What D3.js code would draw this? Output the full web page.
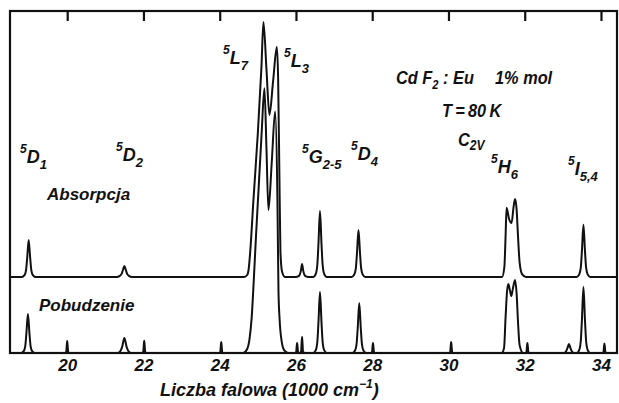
<!DOCTYPE html>
<html>
<head>
<meta charset="utf-8">
<script src="https://cdn.jsdelivr.net/npm/d3@7"></script>
<style>
  html, body { margin: 0; padding: 0; background: #fff; }
  svg { display: block; }
  text { font-family: "Liberation Sans", Arial, sans-serif; font-style: italic; fill: #111; }
</style>
</head>
<body>
<script>
// Wavenumber axis, in 1000 cm^-1
const xTicks = [20, 22, 24, 26, 28, 30, 32, 34];

// Absorption spectrum of CdF2:Eu (1% mol) at 80 K: [wavenumber, intensity]
const absorption = [
  [18.50, 0],
  [18.81, 0], [18.88, 0.7], [18.92, 2.5], [18.95, 7.0], [18.99, 13.9], [19.03, 7.0], [19.06, 2.5], [19.10, 0.7], [19.17, 0],
  [21.30, 0], [21.38, 0.4], [21.43, 1.3], [21.47, 3.0], [21.50, 4.1], [21.53, 3.0], [21.57, 1.3], [21.62, 0.4], [21.70, 0],
  [24.64, 0], [24.72, 0.75], [24.76, 3.0], [24.80, 9.4], [24.885, 29.0], [25.00, 54.1], [25.095, 79.0], [25.147, 95.9],
  [25.226, 78.2], [25.304, 60.9], [25.401, 73.7], [25.498, 86.5], [25.532, 75.0], [25.566, 37.6], [25.593, 9.4], [25.637, 1.9], [25.716, 0],
  [26.00, 0], [26.06, 0.2], [26.10, 0.9], [26.13, 2.4], [26.16, 4.9], [26.19, 2.4], [26.22, 0.9], [26.26, 0.2], [26.32, 0],
  [26.45, 0], [26.52, 1.2], [26.56, 4.5], [26.59, 12.4], [26.63, 24.8], [26.67, 12.4], [26.70, 4.5], [26.74, 1.2], [26.81, 0],
  [27.46, 0], [27.53, 0.9], [27.57, 3.2], [27.60, 8.9], [27.64, 17.7], [27.68, 8.9], [27.71, 3.2], [27.75, 0.9], [27.82, 0],
  [31.405, 0], [31.466, 3.8], [31.497, 15.0], [31.524, 26.0], [31.589, 21.8], [31.655, 20.3], [31.707, 26.3], [31.747, 29.3],
  [31.786, 25.6], [31.825, 15.0], [31.865, 5.6], [31.93, 1.1], [32.035, 0],
  [33.36, 0], [33.43, 1.0], [33.47, 3.5], [33.50, 9.8], [33.54, 19.6], [33.58, 9.8], [33.61, 3.5], [33.65, 1.0], [33.72, 0],
  [34.42, 0]
];

// Excitation spectrum (Pobudzenie): [wavenumber, intensity]
const excitation = [
  [18.50, 0],
  [18.79, 0], [18.86, 0.7], [18.90, 2.6], [18.93, 7.4], [18.97, 14.7], [19.01, 7.4], [19.04, 2.6], [19.08, 0.7], [19.15, 0],
  [19.94, 0], [19.975, 0.45], [19.988, 2.7], [20.00, 4.5], [20.012, 2.7], [20.025, 0.45], [20.06, 0],
  [21.32, 0], [21.39, 0.6], [21.44, 2.2], [21.50, 5.6], [21.56, 2.2], [21.61, 0.6], [21.68, 0],
  [21.96, 0], [21.995, 0.46], [22.008, 2.8], [22.02, 4.6], [22.032, 2.8], [22.045, 0.46], [22.08, 0],
  [23.98, 0], [24.015, 0.41], [24.028, 2.5], [24.04, 4.1], [24.052, 2.5], [24.065, 0.41], [24.10, 0],
  [24.615, 0], [24.72, 1.5], [24.785, 5.6], [24.838, 13.2], [24.89, 26.3], [24.956, 45.1], [25.021, 62.0], [25.10, 82.7], [25.173, 99.5],
  [25.226, 77.1], [25.278, 53.8], [25.367, 72.2], [25.454, 90.8], [25.514, 57.5], [25.541, 23.7], [25.572, 12.4],
  [25.624, 4.5], [25.69, 1.1], [25.795, 0],
  [25.97, 0], [26.005, 0.38], [26.018, 2.3], [26.03, 3.8], [26.042, 2.3], [26.055, 0.38], [26.09, 0],
  [26.10, 0], [26.135, 0.6], [26.148, 3.6], [26.16, 6.0], [26.172, 3.6], [26.185, 0.6], [26.22, 0],
  [26.45, 0], [26.52, 1.1], [26.56, 4.1], [26.59, 11.5], [26.63, 22.9], [26.67, 11.5], [26.70, 4.1], [26.74, 1.1], [26.81, 0],
  [27.48, 0], [27.55, 0.9], [27.59, 3.4], [27.62, 9.4], [27.66, 18.8], [27.70, 9.4], [27.73, 3.4], [27.77, 0.9], [27.84, 0],
  [27.96, 0], [27.995, 0.38], [28.008, 2.3], [28.02, 3.8], [28.032, 2.3], [28.045, 0.38], [28.08, 0],
  [30.01, 0], [30.045, 0.41], [30.058, 2.5], [30.07, 4.1], [30.082, 2.5], [30.095, 0.41], [30.13, 0],
  [31.392, 0], [31.458, 1.9], [31.497, 13.2], [31.537, 23.3], [31.571, 25.9], [31.615, 23.3], [31.649, 21.4], [31.688, 24.1],
  [31.747, 27.4], [31.786, 22.6], [31.825, 11.3], [31.865, 3.0], [31.956, 0],
  [32.01, 0], [32.045, 0.38], [32.058, 2.3], [32.07, 3.8], [32.082, 2.3], [32.095, 0.38], [32.13, 0],
  [33.03, 0], [33.08, 0.5], [33.12, 1.8], [33.16, 3.4], [33.20, 1.8], [33.24, 0.5], [33.29, 0],
  [33.36, 0], [33.43, 1.2], [33.47, 4.5], [33.50, 12.4], [33.54, 24.8], [33.58, 12.4], [33.61, 4.5], [33.65, 1.2], [33.72, 0],
  [34.03, 0], [34.065, 0.36], [34.078, 2.2], [34.09, 3.6], [34.102, 2.2], [34.115, 0.36], [34.15, 0],
  [34.42, 0]
];

// Term labels: [superscript, letter, subscript]
const termLabels = [
  ["5", "D", "1"], ["5", "D", "2"], ["5", "L", "7"], ["5", "L", "3"],
  ["5", "G", "2-5"], ["5", "D", "4"], ["5", "H", "6"], ["5", "I", "5,4"]
];
const spectrumNames = ["Absorpcja", "Pobudzenie"];
const axisTitle = ["Liczba falowa (1000 cm", "\u22121", ")"];

const W = 619, H = 403;
const frame = { left: 10, right: 617, top: 11, bottom: 353 };

const svg = d3.select("body").append("svg")
  .attr("width", W).attr("height", H);

const x = d3.scaleLinear().domain([18.5, 34.42]).range([frame.left, frame.right]);
const yAbs = d3.scaleLinear().domain([0, 100]).range([277, 11]);
const yExc = d3.scaleLinear().domain([0, 100]).range([frame.bottom, 87]);

// Frame
svg.append("rect")
  .attr("x", frame.left).attr("y", frame.top)
  .attr("width", frame.right - frame.left).attr("height", frame.bottom - frame.top)
  .attr("fill", "none").attr("stroke", "#111").attr("stroke-width", 2.2);

// Ticks hanging from the top edge
const topAxis = svg.append("g")
  .attr("transform", `translate(0,${frame.top})`)
  .call(d3.axisBottom(x).tickValues(xTicks).tickSize(10).tickFormat(""));
topAxis.select(".domain").remove();
topAxis.selectAll(".tick line").attr("stroke", "#111").attr("stroke-width", 2.2);

// Tick labels under the bottom edge
const bottomAxis = svg.append("g")
  .attr("transform", `translate(0,${frame.bottom})`)
  .call(d3.axisBottom(x).tickValues(xTicks).tickSize(0).tickPadding(6).tickFormat(d3.format("d")));
bottomAxis.select(".domain").remove();
bottomAxis.selectAll(".tick text")
  .attr("font-family", "Liberation Sans, Arial, sans-serif")
  .attr("font-size", 17).attr("font-weight", "bold").attr("font-style", "italic")
  .attr("fill", "#111").attr("dy", "0.72em");

// Spectra
const line = (ys) => d3.line()
  .x(d => x(d[0])).y(d => ys(d[1]))
  .curve(d3.curveMonotoneX);

svg.append("path").datum(absorption)
  .attr("d", line(yAbs))
  .attr("fill", "none").attr("stroke", "#111").attr("stroke-width", 2)
  .attr("stroke-linejoin", "round");

svg.append("path").datum(excitation)
  .attr("d", line(yExc))
  .attr("fill", "none").attr("stroke", "#111").attr("stroke-width", 2)
  .attr("stroke-linejoin", "round");

// Term symbol labels with superscript multiplicity and subscript J
const termPos = [
  [20, 163], [116, 161], [223, 64], [284, 67],
  [302, 163], [351, 160], [491, 173], [568, 175]
];
termLabels.forEach((t, i) => {
  const [px, py] = termPos[i];
  const txt = svg.append("text").attr("x", px).attr("y", py).attr("font-weight", "bold");
  txt.append("tspan").attr("font-size", 12).attr("dy", -10).text(t[0]);
  txt.append("tspan").attr("font-size", 18).attr("dy", 10).text(t[1]);
  txt.append("tspan").attr("font-size", 13).attr("dy", 6).text(t[2]);
});

// Spectrum names
svg.append("text").attr("x", 47).attr("y", 200)
  .attr("font-size", 17).attr("font-weight", "bold").text(spectrumNames[0]);
svg.append("text").attr("x", 39).attr("y", 311)
  .attr("font-size", 17).attr("font-weight", "bold").text(spectrumNames[1]);

// Sample description, set in a condensed italic
const condensed = (px, py) => svg.append("text")
  .attr("transform", `translate(${px},${py}) scale(0.86,1)`)
  .attr("font-size", 19).attr("font-weight", "bold");

const s1 = condensed(396, 84);
s1.append("tspan").text("Cd F");
s1.append("tspan").attr("font-size", 13).attr("dy", 5).text("2");
s1.append("tspan").attr("dy", -5).text(" : Eu");
const s1b = condensed(495, 84);
s1b.text("1% mol");

condensed(442, 117).text("T\u2009=\u200980\u2009K");

const s3 = condensed(458, 146);
s3.append("tspan").text("C");
s3.append("tspan").attr("font-size", 14).attr("dy", 4).text("2V");

// Axis title
const at = svg.append("text").attr("x", 160).attr("y", 396)
  .attr("font-size", 18).attr("font-weight", "bold");
at.append("tspan").text(axisTitle[0]);
at.append("tspan").attr("font-size", 12).attr("dy", -8).text(axisTitle[1]);
at.append("tspan").attr("dy", 8).text(axisTitle[2]);
</script>
</body>
</html>
